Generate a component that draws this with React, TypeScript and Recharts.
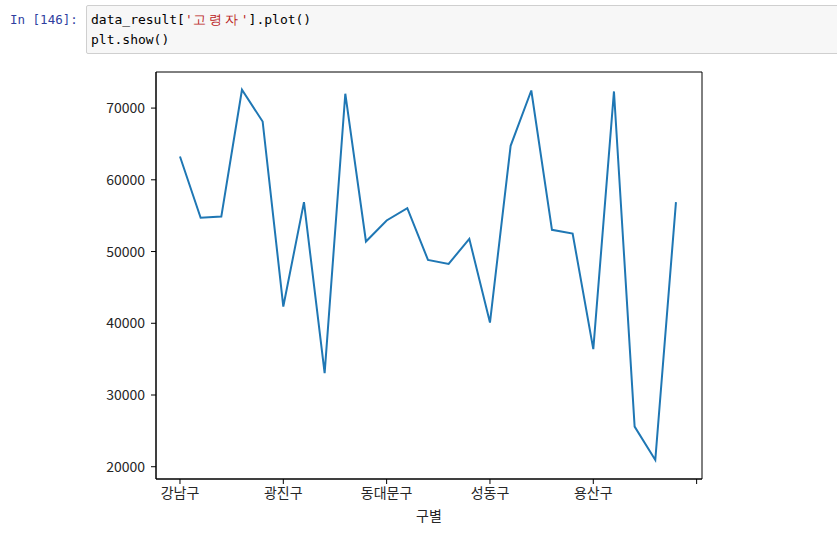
import React from 'react';
import { LineChart, Line, XAxis, YAxis, ReferenceArea } from 'recharts';

const districts = [
  '강남구', '강동구', '강북구', '강서구', '관악구', '광진구', '구로구', '금천구', '노원구', '도봉구',
  '동대문구', '동작구', '마포구', '서대문구', '서초구', '성동구', '성북구', '송파구', '양천구', '영등포구',
  '용산구', '은평구', '종로구', '중구', '중랑구',
];
const elderly = [
  63250, 54700, 54880, 72550, 68130, 42330, 56890, 33040, 72000, 51400,
  54330, 56050, 48840, 48280, 51770, 40100, 64740, 72450, 53030, 52510,
  36390, 72320, 25600, 20950, 56890,
];
const xTicks = [0, 5, 10, 15, 20, 25];
const yTicks = [20000, 30000, 40000, 50000, 60000, 70000];
const xDomain: [number, number] = [-1.16, 25.26];
const yDomain: [number, number] = [18290, 75030];

const data = districts.map((name, i) => ({ idx: i, name, value: elderly[i] }));

const FONT = '"Noto Sans CJK KR", "Noto Sans", sans-serif';
const MONO = '"DejaVu Sans Mono", "Liberation Mono", monospace';

export default function App() {
  return (
    <div style={{ position: 'absolute', left: 0, top: 0, width: 837, height: 539, background: '#fff', overflow: 'hidden' }}>
      <div style={{ position: 'absolute', left: 10, top: 10, fontFamily: MONO, fontSize: 12.5, color: '#303F9F', lineHeight: '20px' }}>
        In [146]:
      </div>
      <div
        style={{
          position: 'absolute', left: 86, top: 5, width: 760, height: 49,
          background: '#f7f7f7', border: '1px solid #cfcfcf', borderRadius: 2, boxSizing: 'border-box',
        }}
      >
        <div style={{ position: 'absolute', left: 4, top: 4, fontFamily: MONO, fontSize: 13, color: '#000', lineHeight: '20px', whiteSpace: 'pre' }}>
          <div>
            data_result[<span style={{ color: '#BA2121' }}>'<span style={{ letterSpacing: 3 }}>고령자</span>'</span>].plot()
          </div>
          <div>plt.show()</div>
        </div>
      </div>
      <div style={{ position: 'absolute', left: 0, top: 0 }}>
        <LineChart width={837} height={539} data={data} margin={{ top: 72, left: 96, right: 135, bottom: 30 }}>
          <XAxis
            dataKey="idx"
            type="number"
            domain={xDomain}
            allowDataOverflow
            ticks={xTicks}
            tickFormatter={(v: number) => districts[v] ?? ''}
            height={30}
            tickSize={5}
            tickMargin={4}
            axisLine={{ stroke: '#000', strokeWidth: 1 }}
            tickLine={{ stroke: '#000', strokeWidth: 1 }}
            tick={{ fill: '#262626', fontSize: 14, fontFamily: FONT }}
            label={{ value: '구별', position: 'insideBottom', offset: -12, fill: '#262626', fontSize: 14, fontFamily: FONT }}
          />
          <YAxis
            type="number"
            domain={yDomain}
            allowDataOverflow
            ticks={yTicks}
            width={60}
            tickSize={5}
            tickMargin={6}
            axisLine={{ stroke: '#000', strokeWidth: 1 }}
            tickLine={{ stroke: '#000', strokeWidth: 1 }}
            tick={{ fill: '#262626', fontSize: 14, fontFamily: FONT }}
          />
          <ReferenceArea
            x1={xDomain[0]}
            x2={xDomain[1]}
            y1={yDomain[0]}
            y2={yDomain[1]}
            fill="none"
            stroke="#000"
            strokeWidth={1}
            ifOverflow="visible"
          />
          <Line
            type="linear"
            dataKey="value"
            stroke="#1f77b4"
            strokeWidth={2}
            dot={false}
            activeDot={false}
            isAnimationActive={false}
          />
        </LineChart>
      </div>
    </div>
  );
}
